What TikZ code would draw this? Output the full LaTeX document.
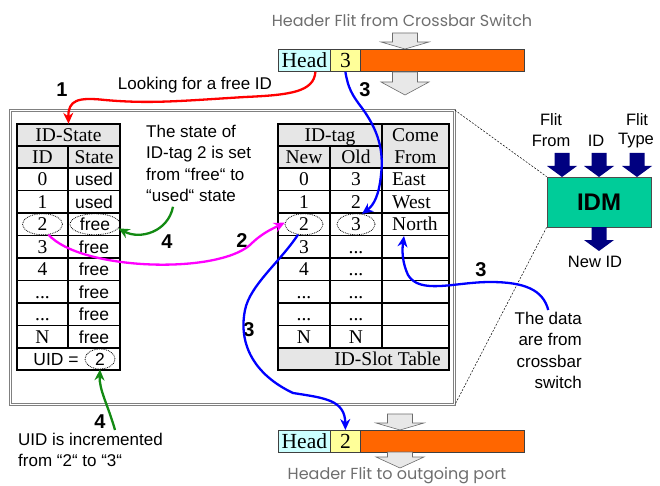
\documentclass[tikz,border=0pt]{standalone}
\usepackage{fontspec}
\setmainfont{Liberation Serif}
\setsansfont{Liberation Sans}
\newfontfamily\gothicfont{Poppins}
\usetikzlibrary{shapes.geometric,arrows.meta,calc}
\definecolor{headc}{HTML}{CCFFFF}
\definecolor{numc}{HTML}{FFFF99}
\definecolor{bodyc}{HTML}{FF6600}
\definecolor{idmc}{HTML}{00CC99}
\definecolor{navy}{HTML}{000080}
\definecolor{hdrgray}{HTML}{E6E6E6}
\definecolor{grn}{HTML}{138A13}
\definecolor{mag}{HTML}{FF00FF}
\definecolor{titlegray}{HTML}{6E6E6E}
\newcommand\tdots{...}
\newcommand\grayarr[4]{%
  \draw[garrow] ({#1-12.5},{#2}) -- ({#1+12.5},{#2}) -- ({#1+12.5},{#2+#3}) -- ({#1+24},{#2+#3}) -- ({#1},{#2+#3+#4}) -- ({#1-24},{#2+#3}) -- ({#1-12.5},{#2+#3}) -- cycle;}
\newcommand\navyarr[2]{%
  \fill[navy] ({#1-7.5},{#2}) -- ({#1+7.5},{#2}) -- ({#1+7.5},{#2+13}) -- ({#1+15},{#2+13}) -- ({#1},{#2+24}) -- ({#1-15},{#2+13}) -- ({#1-7.5},{#2+13}) -- cycle;}
\begin{document}
\begin{tikzpicture}[x=1pt,y=-1pt,
  serif/.style={font=\fontsize{19.5}{21}\selectfont, inner sep=0pt, text height=13pt, text depth=0pt},
  sansc/.style={font=\sffamily\fontsize{17.5}{21}\selectfont, inner sep=0pt, text height=12.5pt, text depth=0pt},
  lab/.style={font=\sffamily\bfseries\fontsize{20}{20}\selectfont, inner sep=0pt},
  note/.style={font=\sffamily\fontsize{17}{21.3}\selectfont, inner sep=0pt},
  small/.style={font=\sffamily\fontsize{16.5}{20}\selectfont, inner sep=0pt},
  titletxt/.style={font=\gothicfont\fontsize{16}{18}\selectfont, text=titlegray, inner sep=0pt},
  dotell/.style={ellipse, draw, densely dotted, line width=0.8pt, inner sep=0pt, minimum height=21},
  grid/.style={line width=1.3pt},
  conn/.style={line width=2.3pt, -{Stealth[length=11pt,width=10pt]}},
  garrow/.style={draw=gray!85!black, fill=gray!18, line width=0.6pt},
  barcell/.style={draw=black!75, line width=0.8pt, anchor=north west, inner sep=0pt, minimum height=22, font=\fontsize{21.5}{22}\selectfont, text height=14pt, text depth=0pt},
  framebox/.style={draw=gray, double=white, double distance=1.6pt, line width=0.7pt, minimum width=444, minimum height=294, inner sep=0pt},
  dotline/.style={line width=0.5pt, dash pattern=on 2pt off 1.5pt}
]
\useasboundingbox (0,0) rectangle (660,486);

% outer frame
\node[framebox] (frame) at (232.5,257.5) {};

% top flit
\node[titletxt] (ttitle) at (402,20) {Header Flit from Crossbar Switch};
\grayarr{405}{33}{9}{7}
\node[barcell, fill=headc, minimum width=52] (tHead) at (278,49) {Head};
\node[barcell, fill=numc, minimum width=30] (tThree) at (330,49) {3};
\node[barcell, fill=bodyc, minimum width=164] (tBody) at (360,49) {};
\grayarr{405}{72}{10}{13}

% bottom flit
\grayarr{400}{414}{9}{7}
\node[barcell, fill=headc, minimum width=52] (bHead) at (278,430) {Head};
\node[barcell, fill=numc, minimum width=30] (bTwo) at (330,430) {2};
\node[barcell, fill=bodyc, minimum width=164] (bBody) at (360,430) {};
\grayarr{400}{452}{5}{11}
\node[titletxt] (btitle) at (397,476) {Header Flit to outgoing port};

% ---- left table: ID-State
\fill[hdrgray] (17,124) rectangle (120,168);
\draw[grid] (17,124) rectangle (120,370);
\draw[grid] (17,146) -- (120,146);
\foreach \k in {0,...,8} \draw[grid] (17,{168+22.5*\k}) -- (120,{168+22.5*\k});
\draw[grid] (68,146) -- (68,348);
\node[serif, minimum width=103, minimum height=22] (idstate) at (68.5,135) {ID-State};
\node[serif] (lid) at (42.5,157) {ID};
\node[serif] (lstate) at (94,157) {State};
\foreach \v/\s/\r in {0/used/0,1/used/1,3/free/3,4/free/4,\tdots/free/5,\tdots/free/6,N/free/7} {
  \node[serif] (lv\r) at (42.5,{179.25+22.5*\r}) {\v};
  \node[sansc] (ls\r) at (94,{179.25+22.5*\r}) {\s};
}
\node[dotell, serif, minimum width=40] (id2) at (42.5,224.25) {2};
\node[dotell, sansc, minimum width=50] (free2) at (95,224.25) {free};
\node[sansc] (uidlbl) at (56,359) {UID =};
\node[dotell, sansc, minimum width=30, minimum height=20] (uid2) at (100,359) {2};

% ---- right table: ID-Slot
\fill[hdrgray] (278,124) rectangle (449,168);
\fill[hdrgray] (278,348) rectangle (449,370);
\draw[grid] (278,124) rectangle (449,370);
\draw[grid] (278,146) -- (382,146);
\foreach \k in {0,...,8} \draw[grid] (278,{168+22.5*\k}) -- (449,{168+22.5*\k});
\draw[grid] (330,146) -- (330,348);
\draw[grid] (382,124) -- (382,348);
\node[serif] (idtag) at (330,135) {ID-tag};
\node[serif] (come) at (415.5,135) {Come};
\node[serif] (from) at (415.5,157) {From};
\node[serif] (rnew) at (304,157) {New};
\node[serif] (rold) at (356,157) {Old};
\foreach \n/\o/\r in {0/3/0,1/2/1,3/\tdots/3,4/\tdots/4,\tdots/\tdots/5,\tdots/\tdots/6,N/N/7} {
  \node[serif] (rn\r) at (304,{179.25+22.5*\r}) {\n};
  \node[serif] (ro\r) at (356,{179.25+22.5*\r}) {\o};
}
\node[dotell, serif, minimum width=38] (new2) at (304,224.25) {2};
\node[dotell, serif, minimum width=38] (old2) at (356,224.25) {3};
\node[serif, anchor=west] (east) at (392,179.25) {East};
\node[serif, anchor=west] (west) at (392,201.75) {West};
\node[serif, anchor=west] (north) at (392,224.25) {North};
\node[serif, anchor=east] (slot) at (441,359) {ID-Slot Table};

% ---- IDM block
\node[draw=black!70, line width=0.8pt, fill=idmc, minimum width=104, minimum height=50, inner sep=0pt,
      font=\sffamily\bfseries\fontsize{24}{24}\selectfont] (idm) at (599,202) {IDM};
\navyarr{562}{153}
\navyarr{599}{153}
\navyarr{637}{153}
\navyarr{599}{227}
\node[small] (flit1) at (551,120) {Flit};
\node[small] (from1) at (551,141) {From};
\node[small] (idin) at (596,141) {ID};
\node[small] (flit2) at (637,120) {Flit};
\node[small] (type2) at (636,141) {Type};
\node[small] (newid) at (595,262) {New ID};
\draw[dotline] (frame.north east) -- (idm.north west);
\draw[dotline] (idm.south west) -- (frame.south east);

% ---- notes
\node[note] (looking) at (195,85) {Looking for a free ID};
\node[note, align=left, anchor=north west] (statetxt) at (146,125) {The state of\\ID-tag 2 is set\\from “free“ to\\“used“ state};
\node[note, align=right, anchor=north east] (datatxt) at (582,312) {The data\\are from\\crossbar\\switch};
\node[note, align=left, anchor=north west] (uidnote) at (18,433) {UID is incremented\\from “2“ to “3“};

% ---- step labels
\node[lab] at (62,90) {1};
\node[lab] at (242,241) {2};
\node[lab] at (365,90) {3};
\node[lab] at (249,330) {3};
\node[lab] at (481,270) {3};
\node[lab] at (167,242) {4};
\node[lab] at (100,422) {4};

% ---- connectors
\draw[conn, red] ($(tHead.south)+(11,0)$) .. controls (314,92) and (290,95) .. (245,97)
   .. controls (180,101) and (150,104) .. (105,100) .. controls (78,97) and (68,100) .. (idstate.north);
\draw[conn, blue] (tThree.south) .. controls (348,88) and (352,95) .. (362,108)
   .. controls (378,130) and (384,150) .. (381,175) .. controls (379,195) and (374,205) .. (old2.60);
\draw[conn, mag] (id2.-60) .. controls (80,270) and (215,275) .. (250,245)
   .. controls (262,233) and (272,229) .. (new2.175);
\draw[conn, blue] (new2.-120) .. controls (280,262) and (250,285) .. (245,310)
   .. controls (238,345) and (255,375) .. (293,393) .. controls (325,398) and (345,400) .. (bTwo.north);
\draw[conn, blue] ($(datatxt.north)+(0,-2)$) .. controls (543,290) and (525,282) .. (490,282)
   .. controls (455,282) and (420,295) .. (408,275) .. controls (402,262) and (402,250) .. ($(north.south west)+(12,5)$);
\draw[conn, grn] ($(statetxt.south west)+(27,5)$) .. controls (168,232) and (140,240) .. (free2.-10);
\draw[conn, grn] ($(uidnote.north west)+(97,-3)$) .. controls (108,405) and (99,390) .. (uid2.south);
\end{tikzpicture}
\end{document}
